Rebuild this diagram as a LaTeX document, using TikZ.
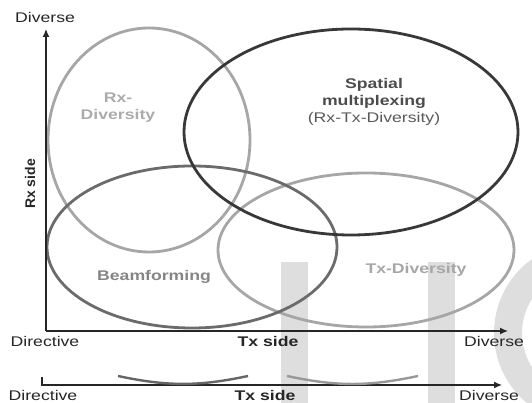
\documentclass[tikz,border=0pt]{standalone}
\usepackage{fontspec}
\setmainfont{Liberation Sans}[FakeStretch=1.26]
\newfontfamily\sidefont{Liberation Sans}
\usetikzlibrary{shapes.geometric,arrows.meta}

\begin{document}
\begin{tikzpicture}[
		x=1pt, y=1pt,
		font=\fontsize{14}{17}\selectfont, text=black!85,
		ring/.style = {ellipse, inner sep=0, line width=2.8pt},
		lbl/.style  = {font=\fontsize{14}{17}\selectfont\bfseries, align=center},
		ax/.style   = {-{Latex[length=8pt,width=7pt]}, line width=1.3pt, draw=black!85},
		arc/.style  = {line width=2.4pt},
		wm/.style   = {fill=black!13, draw=none}
		]
		\useasboundingbox (0,0) rectangle (532,403);

		% watermark in the back
		\fill[wm]	(281,0)	rectangle	(308,141);
		\fill[wm]	(428,0)	rectangle	(455,141);
		\fill[wm, even odd rule]	(585,70)	circle	(91)	(585,70)	circle	(63);

		% the four regions
		\node[ring, draw=black!35, minimum width=202pt, minimum height=224pt]	(rxd)	at	(149,263)	{};
		\node[ring, draw=black!35, minimum width=296pt, minimum height=154pt]	(txd)	at	(366,153)	{};
		\node[ring, draw=black!58, minimum width=290pt, minimum height=162pt]	(bf)	at	(192,156)	{};
		\node[ring, draw=black!78, minimum width=334pt, minimum height=206pt]	(sm)	at	(351,271)	{};

		\node[lbl, text=black!33]	(rxl)	at	(118,295)	{Rx-\\Diversity};
		\node[lbl, text=black!70]	(sml)	at	(374,301)	{Spatial\\multiplexing\\{\mdseries\color{black!65}(Rx-Tx-Diversity)}};
		\node[lbl, text=black!48]	(bfl)	at	(154,126)	{Beamforming};
		\node[lbl, text=black!35]	(txl)	at	(416,133)	{Tx-Diversity};

		% axes
		\coordinate	(o)		at	(46,72);
		\coordinate	(ytop)	at	(46,374);
		\coordinate	(xend)	at	(508,72);
		\draw[ax]	(o)	--	(ytop);
		\draw[ax]	(o)	--	(xend);

		\node				(ydiv)	at	(45,385)	{Diverse};
		\node[font=\sidefont\fontsize{14}{17}\selectfont\bfseries, rotate=90]	(rxs)	at	(30,219)	{Rx side};
		\node				(dir1)	at	(45,61)		{Directive};
		\node[lbl]			(tx1)	at	(268,61)	{Tx side};
		\node				(div1)	at	(494,61)	{Diverse};

		% second axis below
		\coordinate	(t)		at	(42,26);
		\coordinate	(e)		at	(502,18);
		\draw[ax]	(t)	|-	(e);

		\coordinate	(a1)	at	(118,27);
		\coordinate	(a2)	at	(248,27);
		\coordinate	(b1)	at	(287,27);
		\coordinate	(b2)	at	(418,27);
		\draw[arc, draw=black!60]	(a1)	to[bend right=12]	(a2);
		\draw[arc, draw=black!40]	(b1)	to[bend right=12]	(b2);

		\node				(dir2)	at	(43,8)		{Directive};
		\node[lbl]			(tx2)	at	(265,8)		{Tx side};
		\node				(div2)	at	(489,8)		{Diverse};
\end{tikzpicture}
\end{document}
